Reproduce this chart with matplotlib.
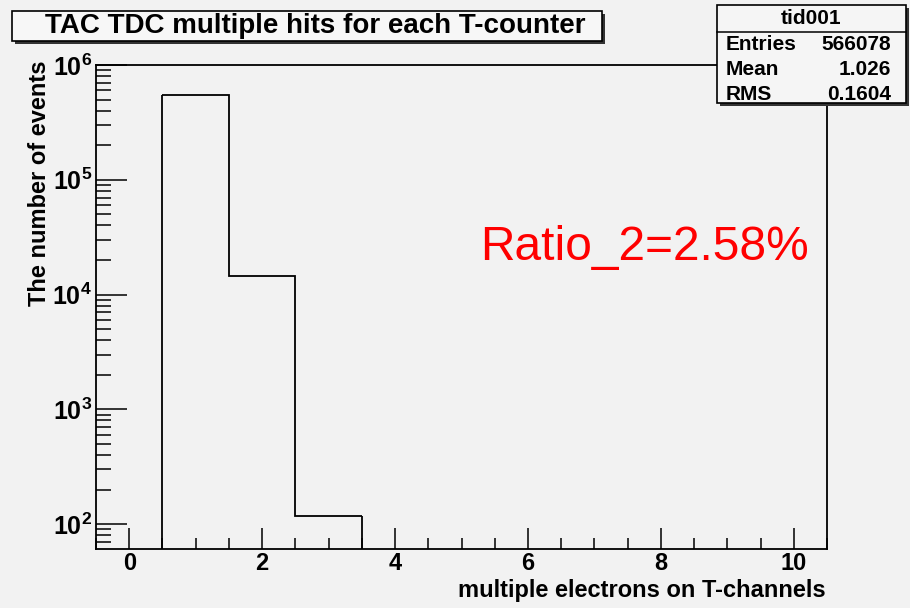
import numpy as np
import matplotlib
matplotlib.use("Agg")
import matplotlib.pyplot as plt
from matplotlib.patches import Rectangle
from matplotlib.ticker import FixedLocator, NullFormatter

plt.rcParams['font.family'] = ['Liberation Sans', 'DejaVu Sans']
plt.rcParams['mathtext.fontset'] = 'custom'
plt.rcParams['mathtext.rm'] = 'Liberation Sans:bold'
plt.rcParams['mathtext.bf'] = 'Liberation Sans:bold'

# histogram data
bin_edges = [0.5, 1.5, 2.5, 3.5]
counts = [551460, 14500, 118]
x_ticks = [0, 2, 4, 6, 8, 10]
y_ticks = [1e2, 1e3, 1e4, 1e5, 1e6]
y_tick_labels = [r'$10^{2}$', r'$10^{3}$', r'$10^{4}$', r'$10^{5}$', r'$10^{6}$']
stats_name = "tid001"
stats_rows = [("Entries", "566078"), ("Mean", "1.026"), ("RMS", "0.1604")]
title = "TAC TDC multiple hits for each T-counter"
ratio_text = "Ratio_2=2.58%"

bg = '#f2f2f2'
W, H = 910, 608
fig = plt.figure(figsize=(W / 100, H / 100), dpi=100, facecolor=bg)

# axes box in pixels: left 96, right 827, top 65, bottom 549
ax = fig.add_axes([96 / W, 1 - 549 / H, (827 - 96) / W, (549 - 65) / H])
ax.set_facecolor(bg)
ax.set_yscale('log')
ax.set_xlim(-0.5, 10.5)
ax.set_ylim(10 ** 1.783, 1e6)

ax.stairs(counts, bin_edges, color='black', lw=1.3, baseline=None)
# vertical edges down to the axis
ax.vlines([bin_edges[0]], 1, counts[0], color='black', lw=1.3)
ax.vlines([bin_edges[-1]], 1, counts[-1], color='black', lw=1.3)

for s in ['top', 'right', 'left', 'bottom']:
    ax.spines[s].set_linewidth(1.3)

ax.xaxis.set_major_locator(FixedLocator(x_ticks))
ax.xaxis.set_minor_locator(FixedLocator(np.arange(-0.5, 10.6, 0.5)))
ax.set_xticklabels([str(t) for t in x_ticks])
ax.yaxis.set_major_locator(FixedLocator(y_ticks))
ax.set_yticklabels(y_tick_labels)
minor_y = [m * 10 ** e for e in range(1, 6) for m in range(2, 10)]
ax.yaxis.set_minor_locator(FixedLocator(minor_y))
ax.yaxis.set_minor_formatter(NullFormatter())

ax.tick_params(axis='x', which='major', direction='in', length=15, width=1.1,
               labelsize=17, pad=2)
ax.tick_params(axis='x', which='minor', direction='in', length=8, width=1.1)
ax.tick_params(axis='y', which='major', direction='in', length=22, width=1.1,
               labelsize=18, pad=3)
ax.tick_params(axis='y', which='minor', direction='in', length=11, width=1.1)
for lab in ax.get_xticklabels():
    lab.set_fontweight('bold')

fig.text(826 / W, 1 - 590 / H, "multiple electrons on T-channels", ha='right',
         va='center', fontsize=17, fontweight='bold')
fig.text(40 / W, 1 - 60 / H, "The number of events", ha='center', va='top',
         rotation=90, fontsize=17, fontweight='bold')

ax.text(480 / W, 1 - 247 / H, ratio_text, transform=fig.transFigure,
        color='red', fontsize=34.5, ha='left', va='center')

# title box with shadow
fig.patches.append(Rectangle((15 / W, 1 - 44 / H), 590 / W, 30 / H,
                             transform=fig.transFigure, facecolor='#333333',
                             edgecolor='none'))
fig.patches.append(Rectangle((12 / W, 1 - 41 / H), 590 / W, 30 / H,
                             transform=fig.transFigure, facecolor='#f7f7f7',
                             edgecolor='black', lw=1.2))
fig.text(315 / W, 1 - 26 / H, title, ha='center', va='center', fontsize=20,
         fontweight='bold')

# stats box with shadow
sx0, sx1, sy0, sy1 = 717, 906, 5, 103
fig.patches.append(Rectangle(((sx0 + 3) / W, 1 - (sy1 + 3) / H),
                             (sx1 - sx0) / W, (sy1 - sy0) / H,
                             transform=fig.transFigure, facecolor='#333333',
                             edgecolor='none'))
fig.patches.append(Rectangle((sx0 / W, 1 - sy1 / H), (sx1 - sx0) / W,
                             (sy1 - sy0) / H, transform=fig.transFigure,
                             facecolor='#f5f5f5', edgecolor='black', lw=1.2))
fig.add_artist(plt.Line2D([sx0 / W, sx1 / W], [1 - 32 / H, 1 - 32 / H],
                          transform=fig.transFigure, color='black', lw=1.1))
fig.text((sx0 + sx1) / 2 / W, 1 - 19 / H, stats_name, ha='center', va='center',
         fontsize=15, fontweight='bold')
for i, (k, v) in enumerate(stats_rows):
    yy = 1 - (45 + i * 24.5) / H
    fig.text((sx0 + 9) / W, yy, k, ha='left', va='center', fontsize=15,
             fontweight='bold')
    fig.text((sx1 - 15) / W, yy, v, ha='right', va='center', fontsize=15,
             fontweight='bold')

fig.savefig("out.png", dpi=100, facecolor=bg)
